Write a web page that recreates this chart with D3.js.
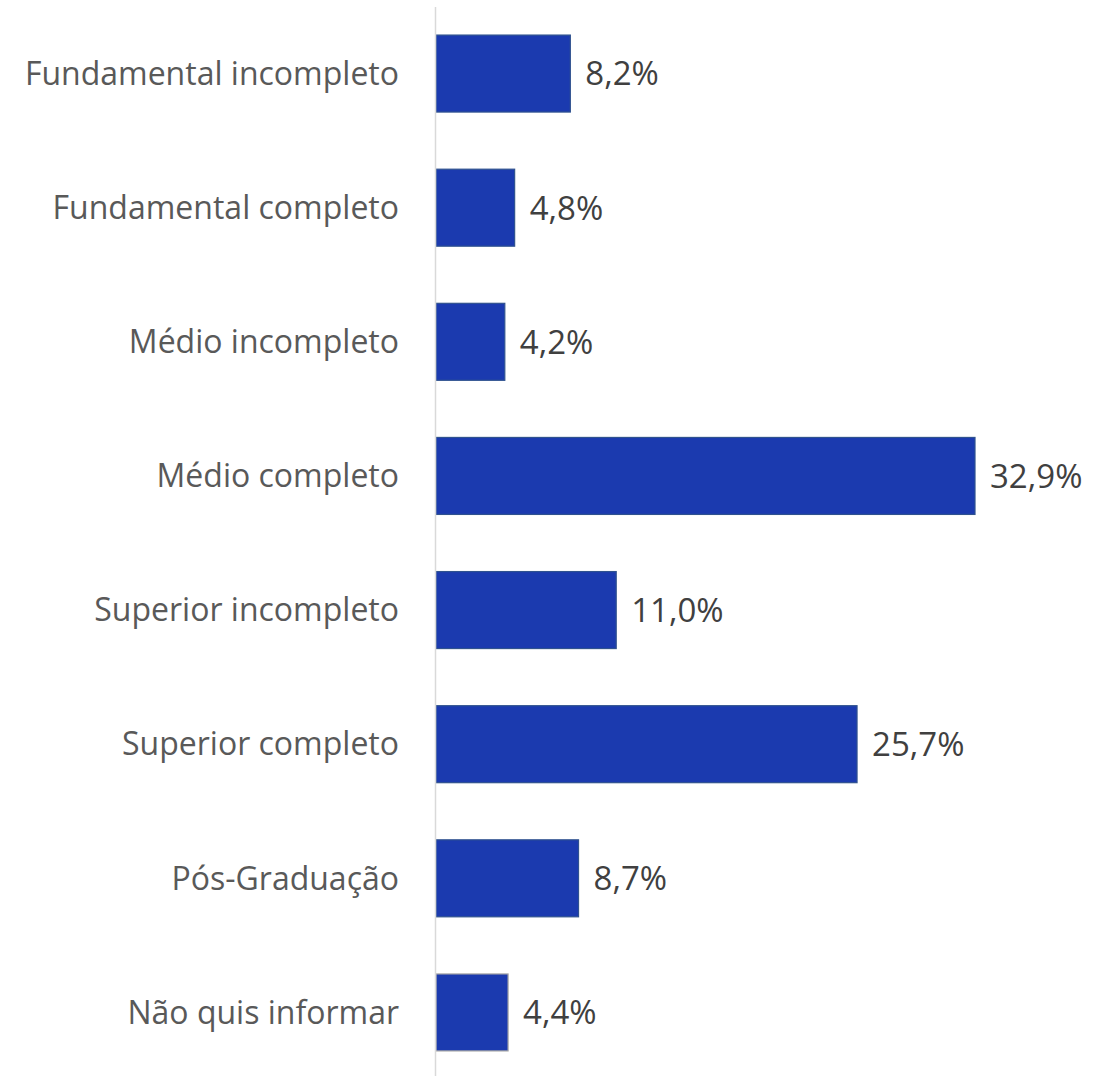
<!DOCTYPE html>
<html>
<head>
<meta charset="utf-8">
<script src="https://cdn.jsdelivr.net/npm/d3@7"></script>
<style>
  html, body { margin: 0; padding: 0; background: #ffffff; }
  svg { display: block; }
</style>
</head>
<body>
<svg id="chart" width="1093" height="1076"></svg>
<script>
const categories = [
  "Fundamental incompleto",
  "Fundamental completo",
  "Médio incompleto",
  "Médio completo",
  "Superior incompleto",
  "Superior completo",
  "Pós-Graduação",
  "Não quis informar"
];
const values = [8.2, 4.8, 4.2, 32.9, 11.0, 25.7, 8.7, 4.4];
const valueLabels = ["8,2%", "4,8%", "4,2%", "32,9%", "11,0%", "25,7%", "8,7%", "4,4%"];

const svg = d3.select("#chart");
const font = "'Open Sans', 'Noto Sans', sans-serif";

const x = d3.scaleLinear().domain([0, 32.9]).range([436, 975]);
const y = d3.scaleBand().domain(categories).range([6.5, 1079.5])
  .paddingInner(0.426).paddingOuter(0.213);

const data = categories.map((c, i) => ({ c, v: values[i], l: valueLabels[i], i }));

// bars
svg.append("g").selectAll("rect").data(data).join("rect")
  .attr("x", x(0))
  .attr("y", d => y(d.c))
  .attr("width", d => x(d.v) - x(0))
  .attr("height", y.bandwidth())
  .attr("fill", "#1b3aaf")
  .attr("stroke", d => d.i === categories.length - 1 ? "#a6a6a6" : "#2f528f")
  .attr("stroke-width", 1.2);

// axis line
svg.append("line")
  .attr("x1", 435.5).attr("x2", 435.5)
  .attr("y1", 7).attr("y2", 1076)
  .attr("stroke", "#d9d9d9").attr("stroke-width", 1.5);

// category labels
const yAxis = d3.axisLeft(y).tickSize(0).tickPadding(0);
const gAxis = svg.append("g").attr("transform", "translate(399,0)").call(yAxis);
gAxis.select(".domain").remove();
gAxis.selectAll("text")
  .attr("font-family", font)
  .attr("font-size", 32)
  .attr("fill", "#595959")
  .attr("dy", "0.35em");

// value labels
svg.append("g").selectAll("text").data(data).join("text")
  .attr("x", d => x(d.v) + 15)
  .attr("y", d => y(d.c) + y.bandwidth() / 2)
  .attr("dy", "0.36em")
  .attr("font-family", font)
  .attr("font-size", 33)
  .attr("fill", "#404040")
  .text(d => d.l);
</script>
</body>
</html>
